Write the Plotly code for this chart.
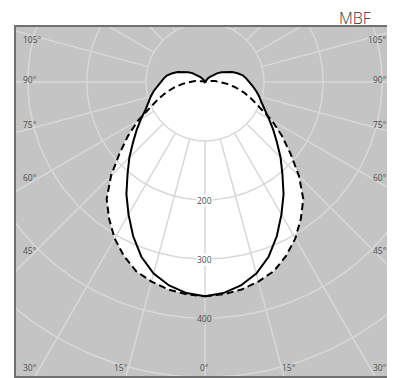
import numpy as np
import plotly.graph_objects as go

# intensidad (cd/klm) cada 5 grados, 0 = nadir, 180 = cenit
angles = list(range(0, 185, 5))
plane_c0 = [363, 359, 350, 336, 315, 288, 259, 232, 204, 181, 159, 141, 125,
            111, 102, 95, 88, 81, 75, 70, 65, 57, 49, 40, 33, 26, 19, 12, 8,
            5, 3, 2, 1, 1, 0, 0, 0]
plane_c90 = [363, 361, 357, 350, 341, 325, 306, 283, 259, 225, 189, 159, 131,
             102, 84, 68, 52, 38, 25, 17, 10, 4, 0, 0, 0, 0, 0, 0, 0, 0, 0,
             0, 0, 0, 0, 0, 0]

rings = [100, 200, 300, 400, 500]
ring_labels = [200, 300, 400]
spokes = list(range(0, 360, 15))

# etiquetas de angulo: texto, posicion en pixeles de la pagina y anclaje
side_labels = ["105°", "90°", "75°", "60°", "45°"]
side_label_y = [40, 80, 125, 177, 250]
bottom_labels = ["30°", "15°", "0°", "15°", "30°"]
bottom_label_x = [30, 121, 205, 289, 380]

GRAY = "#c4c4c4"
GRID = "#d8d8d8"
TXT = "#505050"
CX, CY, K = 205, 82, 1 / 0.59  # centro en pixeles y unidades por pixel
PX0, PY1, PW, PH = 16, 376, 375, 349  # cuadro del grafico en la pagina


def curve(vals):
    th = np.radians(angles)
    r = np.array(vals, dtype=float)
    x = np.concatenate([r * np.sin(th), (-r * np.sin(th))[::-1]])
    y = np.concatenate([-r * np.cos(th), (-r * np.cos(th))[::-1]])
    return x, y


def label(txt, px, py, anchor="center"):
    fig.add_annotation(x=(px - CX) * K, y=(CY - py) * K, text=txt, showarrow=False,
                       xanchor=anchor, font=dict(size=8.5, color=TXT, family="Open Sans"))


fig = go.Figure()

# relleno blanco (union de las dos curvas)
for vals in (plane_c0, plane_c90):
    x, y = curve(vals)
    fig.add_trace(go.Scatter(x=x, y=y, mode="lines", fill="toself", fillcolor="white",
                             line=dict(width=0), hoverinfo="skip", showlegend=False))

# rejilla polar
gx, gy = [], []
t = np.linspace(0, 2 * np.pi, 241)
for r in rings:
    gx += list(r * np.cos(t)) + [None]
    gy += list(r * np.sin(t)) + [None]
for a in spokes:
    ar = np.radians(a)
    gx += [100 * np.sin(ar), 800 * np.sin(ar), None]
    gy += [-100 * np.cos(ar), -800 * np.cos(ar), None]
fig.add_trace(go.Scatter(x=gx, y=gy, mode="lines", line=dict(color=GRID, width=1.5),
                         hoverinfo="skip", showlegend=False))

x, y = curve(plane_c90)
fig.add_trace(go.Scatter(x=x, y=y, mode="lines", line=dict(color="black", width=2, dash="7px,4px"),
                         showlegend=False))
x, y = curve(plane_c0)
fig.add_trace(go.Scatter(x=x, y=y, mode="lines", line=dict(color="black", width=2),
                         showlegend=False))

for v in ring_labels:
    inside = v < plane_c90[0]
    fig.add_annotation(x=0, y=-v, text=str(v), showarrow=False,
                       font=dict(size=8.5, color=TXT, family="Open Sans"),
                       bgcolor="white" if inside else GRAY, borderpad=0)

for txt, py in zip(side_labels, side_label_y):
    label(txt, 21, py, "left")
    label(txt, 389, py, "right")
for txt, px in zip(bottom_labels, bottom_label_x):
    label(txt, px, 367)

fig.add_annotation(x=(373 - PX0) / PW, y=(PY1 - 18) / PH, xref="paper", yref="paper",
                   text="MBF", showarrow=False,
                   font=dict(size=16, color="#333", family="Open Sans", weight=300),
                   xanchor="right", yanchor="middle")

fig.update_xaxes(range=[-320, 315], showgrid=False, zeroline=False, showticklabels=False,
                 showline=True, mirror=True, linecolor="#707070", linewidth=1.5)
fig.update_yaxes(range=[-498, 93], showgrid=False, zeroline=False, showticklabels=False,
                 showline=True, mirror=True, linecolor="#707070", linewidth=1.5)
# la pagina tiene 8 px de margen, por eso el grafico es 8 px mas pequeno
fig.update_layout(width=387, height=370, margin=dict(l=8, r=4, t=19, b=2),
                  plot_bgcolor=GRAY, paper_bgcolor="white")
fig.write_html("out.html")
